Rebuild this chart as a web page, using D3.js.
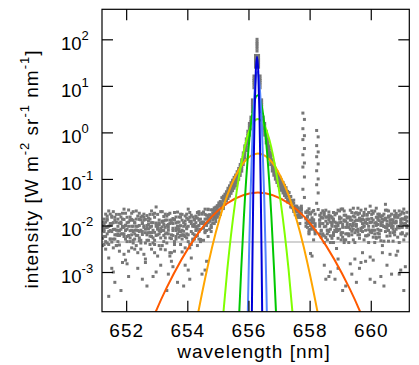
<!DOCTYPE html>
<html>
<head>
<meta charset="utf-8">
<script src="https://cdn.jsdelivr.net/npm/d3@7"></script>
<style>
body { margin: 0; background: #fff; }
text { font-family: "Liberation Sans", Arial, sans-serif; fill: #000; }
</style>
</head>
<body>
<script>
// spectrometer pixels [nm]
var wavelength = [
  651.23, 651.28, 651.33, 651.38, 651.43, 651.48, 651.53, 651.58, 651.63, 651.68,
  651.73, 651.78, 651.83, 651.88, 651.93, 651.98, 652.03, 652.08, 652.13, 652.18,
  652.23, 652.28, 652.33, 652.38, 652.43, 652.48, 652.53, 652.58, 652.63, 652.68,
  652.73, 652.78, 652.83, 652.88, 652.93, 652.98, 653.03, 653.08, 653.13, 653.18,
  653.23, 653.28, 653.33, 653.38, 653.43, 653.48, 653.53, 653.58, 653.63, 653.68,
  653.73, 653.78, 653.83, 653.88, 653.93, 653.98, 654.03, 654.08, 654.13, 654.18,
  654.23, 654.28, 654.33, 654.38, 654.43, 654.48, 654.53, 654.58, 654.63, 654.68,
  654.73, 654.78, 654.83, 654.88, 654.93, 654.98, 655.03, 655.08, 655.13, 655.18,
  655.23, 655.28, 655.33, 655.38, 655.43, 655.48, 655.53, 655.58, 655.63, 655.68,
  655.73, 655.78, 655.83, 655.88, 655.93, 655.98, 656.03, 656.08, 656.13, 656.18,
  656.23, 656.28, 656.33, 656.38, 656.43, 656.48, 656.53, 656.58, 656.63, 656.68,
  656.73, 656.78, 656.83, 656.88, 656.93, 656.98, 657.03, 657.08, 657.13, 657.18,
  657.23, 657.28, 657.33, 657.38, 657.43, 657.48, 657.53, 657.58, 657.63, 657.68,
  657.73, 657.78, 657.83, 657.88, 657.93, 657.98, 658.03, 658.08, 658.13, 658.18,
  658.23, 658.28, 658.33, 658.38, 658.43, 658.48, 658.53, 658.58, 658.63, 658.68,
  658.73, 658.78, 658.83, 658.88, 658.93, 658.98, 659.03, 659.08, 659.13, 659.18,
  659.23, 659.28, 659.33, 659.38, 659.43, 659.48, 659.53, 659.58, 659.63, 659.68,
  659.73, 659.78, 659.83, 659.88, 659.93, 659.98, 660.03, 660.08, 660.13, 660.18,
  660.23, 660.28, 660.33, 660.38, 660.43, 660.48, 660.53, 660.58, 660.63, 660.68,
  660.73, 660.78, 660.83, 660.88, 660.93, 660.98, 661.03, 661.08, 661.13, 661.18
];

// measured spectra, one array per frame [mW m^-2 sr^-1 nm^-1]
var frame1 = [
  5.3, 10.8, 3.1, 13.9, 7.4, 17.6, 4.4, 8.2, 0.6, 11.7,
  6.6, 3.8, 15.2, 9.1, 2.4, 10.1, 5.8, 21.5, 7.7, 3.3,
  12.9, 5.1, 8.0, 1.2, 4.7, 13.2, 6.4, 9.8, 1.9, 16.3,
  8.4, 5.9, 11.5, 4.2, 7.1, 25, 2.2, 10.4, 5.4, 9.3,
  15.6, 3.0, 6.9, 0.9, 11.0, 5.2, 14.1, 3.9, 8.8, 19.4,
  5.6, 9.9, 2.7, 7.5, 16.0, 8.5, 4.5, 12.2, 2.0, 6.7,
  10.6, 15.0, 6.1, 13.0, 5.0, 18.3, 9.0, 1.1, 13.7, 21.9,
  14.2, 9.3, 21.6, 15.4, 24.7, 17.8, 30.5, 25.9, 39.6, 37.2,
  47, 53, 63, 71, 83, 94, 108, 121, 143, 168,
  205, 258, 362, 512, 725, 1060, 1560, 2130, 5000, 16300,
  45000, 100000, 45000, 16300, 5000, 2130, 1560, 1060, 725, 512,
  362, 258, 209, 170, 143, 123, 109, 95, 84, 73,
  65, 54, 51, 42, 33, 35, 26, 26, 17, 20,
  23.4, 2600, 1900, 18.9, 12.6, 22.8, 8.3, 14.6, 11.4, 10.9,
  1100, 800, 13.1, 7.6, 20.7, 9.4, 5.5, 15.3, 0.8, 11.8,
  10.7, 6.1, 16.9, 8.3, 1.9, 14.5, 7.0, 22.6, 4.9, 12.4,
  9.2, 15.1, 1.5, 7.5, 11.1, 4.3, 18.8, 12.9, 6.3, 13.4,
  2.6, 9.8, 7.9, 17.2, 8.1, 0.7, 14.2, 5.6, 20.4, 11.5,
  6.8, 12.7, 4.7, 16.2, 9.5, 28.5, 5.9, 10.0, 2.4, 13.3,
  11.6, 7.4, 18.1, 2.8, 8.9, 1.1, 13.9, 10.5, 6.0, 19.2
];
var frame2 = [
  9.1, 3.9, 11.8, 6.6, 2.0, 11.0, 15.9, 5.1, 8.3, 3.7,
  13.7, 7.8, 0.4, 9.6, 5.8, 18.3, 4.5, 9.6, 13.0, 6.3,
  4.2, 7.9, 20.5, 6.1, 10.0, 3.1, 7.4, 15.0, 1.6, 8.7,
  4.8, 17.3, 7.0, 11.5, 2.6, 11.3, 8.3, 3.7, 19.8, 7.8,
  10.5, 5.4, 13.1, 9.1, 2.2, 6.3, 1.3, 13.5, 5.1, 9.6,
  15.2, 3.9, 7.9, 6.1, 12.4, 6.6, 22.4, 3.3, 11.0, 4.8,
  9.6, 5.8, 14.4, 10.0, 4.5, 11.8, 19.5, 7.4, 16.6, 11.5,
  12.7, 7.4, 18.6, 14.3, 16.8, 23.5, 18.2, 26.6, 23.3, 34.5,
  36, 41, 47, 54, 61, 70, 79, 90, 104, 124,
  150, 186, 261, 369, 522, 765, 1125, 1540, 3600, 11700,
  32400, 72000, 32400, 11700, 3600, 1540, 1125, 765, 522, 369,
  261, 188, 152, 125, 105, 91, 80, 71, 62, 55,
  48, 44, 34, 33, 32, 22, 21, 16, 20, 15,
  22.5, 700, 450, 11.3, 20.5, 6.6, 13.1, 9.1, 21.0, 7.8,
  300, 210, 11.0, 15.2, 6.3, 1.4, 12.4, 7.9, 19.5, 4.3,
  14.4, 7.0, 9.6, 3.2, 21.3, 8.3, 11.8, 5.6, 16.6, 0.5,
  10.0, 6.0, 15.0, 9.6, 23.5, 1.9, 13.0, 7.4, 18.3, 8.7,
  15.9, 4.9, 11.5, 13.7, 6.3, 26, 7.9, 1.8, 11.3, 5.3,
  10.5, 17.5, 7.8, 3.7, 13.1, 9.1, 12.4, 20.5, 6.0, 9.6,
  4.6, 15.0, 8.3, 15.2, 0.9, 11.0, 6.6, 22.5, 13.5, 9.1
];
var frame3 = [
  10.0, 7.4, 17.5, 4.2, 9.6, 5.1, 15.0, 1.0, 6.3, 17.3,
  6.1, 11.3, 8.3, 1.6, 22.4, 7.8, 11.5, 2.8, 13.1, 7.9,
  19.8, 6.6, 3.7, 9.6, 5.4, 15.2, 0.7, 9.1, 13.5, 4.8,
  7.0, 13.7, 3.1, 7.9, 18.3, 6.1, 10.0, 7.8, 1.4, 11.8,
  4.5, 9.1, 15.9, 6.6, 13.0, 2.6, 11.0, 19.0, 5.8, 8.3,
  7.4, 15.0, 5.1, 0.5, 10.5, 17.5, 6.3, 3.9, 12.4, 9.6,
  13.1, 7.8, 9.6, 19.8, 4.8, 11.3, 8.7, 17.3, 1.7, 14.4,
  16.7, 10.2, 16.2, 23.8, 14.1, 25.3, 19.8, 32.6, 26.3, 36.8,
  39, 45, 52, 59, 67, 77, 87, 99, 115, 137,
  167, 207, 290, 410, 580, 850, 1250, 1700, 4000, 13000,
  36000, 80000, 36000, 13000, 4000, 1700, 1250, 850, 580, 410,
  290, 208, 168, 138, 116, 100, 88, 78, 68, 60,
  55, 44, 41, 34, 34, 23, 24, 20, 22, 15,
  26, 180, 110, 13.7, 11.0, 18.3, 2.5, 11.8, 8.3, 17.5,
  75, 50, 9.6, 15.0, 6.6, 19.0, 9.6, 4.9, 13.0, 15.9,
  5.3, 12.4, 7.9, 18.3, 1.2, 11.5, 14.4, 7.0, 4.3, 16.6,
  11.3, 9.1, 21.3, 6.3, 10.0, 15.2, 0.6, 8.3, 13.1, 7.8,
  11.0, 19.0, 6.0, 13.5, 9.6, 2.1, 17.3, 9.6, 6.6, 23.5,
  15.0, 7.9, 0.8, 11.8, 17.5, 7.4, 10.5, 4.6, 15.9, 9.1,
  8.3, 16.6, 11.5, 5.6, 20.5, 12.4, 7.0, 13.7, 1.3, 10.0
];
var frame4 = [
  3.7, 8.3, 5.8, 13.0, 0.3, 7.8, 11.0, 3.3, 15.0, 6.3,
  9.6, 2.8, 6.6, 13.7, 9.1, 5.1, 1.5, 11.8, 4.5, 18.3,
  7.4, 11.5, 6.1, 2.6, 13.5, 7.9, 15.9, 2.4, 7.0, 10.0,
  14.4, 3.9, 9.6, 0.8, 4.8, 11.0, 17.3, 6.6, 3.1, 12.4,
  7.8, 17.5, 4.2, 10.5, 5.4, 13.1, 8.7, 2.8, 11.3, 0.6,
  9.6, 6.1, 13.0, 6.3, 3.3, 9.1, 1.1, 15.0, 7.4, 15.2,
  5.1, 11.5, 3.7, 17.3, 8.3, 0.9, 11.8, 7.0, 10.0, 5.8,
  8.3, 14.8, 11.3, 18.7, 12.2, 16.1, 20.6, 17.3, 26.8, 23.1,
  29, 34, 38, 43, 49, 56, 63, 71, 83, 98,
  119, 147, 203, 287, 406, 595, 875, 1190, 2800, 9100,
  25200, 56000, 25200, 9100, 2800, 1190, 875, 595, 406, 287,
  203, 148, 120, 99, 84, 72, 64, 57, 50, 44,
  40, 32, 32, 25, 24, 20, 22, 15, 16, 11,
  21.3, 1200, 850, 9.6, 15.9, 7.8, 11.3, 19.5, 4.9, 9.6,
  520, 380, 13.0, 5.6, 11.0, 16.6, 0.7, 6.6, 14.4, 8.3,
  15.2, 4.3, 11.8, 7.4, 10.0, 20.5, 6.3, 0.4, 13.1, 9.1,
  6.6, 15.0, 10.5, 19.0, 4.9, 12.4, 7.9, 17.3, 5.3, 1.6,
  13.5, 9.6, 22.4, 6.0, 13.7, 11.5, 7.0, 18.3, 4.3, 10.0,
  8.3, 15.9, 11.3, 2.6, 0.5, 14.4, 21.3, 7.8, 13.0, 17.5,
  13.1, 6.3, 12.4, 9.1, 16.6, 6.6, 19.5, 4.9, 11.0, 15.0
];
var frame5 = [
  11.8, 5.8, 9.1, 15.9, 3.9, 10.0, 7.4, 19.8, 5.1, 7.9,
  4.5, 17.3, 11.0, 6.6, 13.5, 1.8, 8.3, 6.1, 15.2, 9.6,
  9.6, 3.1, 13.7, 7.8, 18.3, 4.8, 11.5, 13.0, 4.2, 6.3,
  10.5, 7.0, 20.5, 5.4, 15.0, 1.0, 8.7, 11.3, 7.4, 3.7,
  12.4, 6.6, 10.0, 17.3, 2.6, 1.7, 6.1, 13.1, 7.8, 11.8,
  8.3, 17.5, 6.3, 11.5, 5.8, 14.4, 9.6, 0.7, 16.6, 5.1,
  13.5, 9.1, 19.0, 7.4, 13.7, 11.0, 4.8, 22.4, 11.3, 15.9,
  12.3, 21.7, 13.2, 20.6, 16.3, 26.7, 21.2, 31.5, 29.4, 42.6,
  42, 49, 57, 64, 73, 84, 95, 108, 126, 150,
  183, 227, 319, 451, 638, 935, 1375, 1870, 4400, 14300,
  39600, 88000, 39600, 14300, 4400, 1870, 1375, 935, 638, 451,
  319, 228, 184, 151, 127, 109, 96, 85, 74, 65,
  56, 51, 42, 41, 29, 30, 25, 20, 24, 17,
  18.3, 60, 40, 19.5, 15.0, 7.0, 17.5, 9.5, 13.1, 6.6,
  30, 22, 16.6, 7.9, 14.4, 6.0, 21.3, 11.0, 7.4, 1.0,
  11.3, 19.0, 7.8, 9.6, 5.3, 13.7, 22.5, 9.1, 12.4, 4.9,
  15.2, 6.6, 13.0, 0.9, 8.3, 18.3, 10.5, 6.3, 14.4, 21.3,
  7.4, 13.1, 11.5, 16.6, 4.3, 11.8, 20.5, 7.9, 0.6, 15.0,
  17.5, 5.6, 10.0, 13.7, 9.6, 13.5, 1.4, 15.9, 7.0, 11.0,
  9.6, 20.5, 2.3, 15.0, 9.1, 17.5, 11.3, 0.4, 15.2, 6.6
];
var frame6 = [
  7.8, 13.7, 4.5, 9.1, 20.5, 5.1, 1.2, 11.5, 13.0, 3.7,
  7.9, 6.1, 11.8, 18.3, 6.6, 10.0, 15.0, 0.8, 5.4, 13.5,
  4.8, 11.3, 9.6, 15.9, 7.4, 4.2, 11.0, 17.5, 8.3, 0.5,
  12.4, 9.1, 5.8, 17.3, 3.9, 9.6, 6.3, 13.1, 8.7, 19.8,
  6.1, 13.0, 0.4, 7.9, 18.3, 11.5, 7.8, 4.5, 15.2, 6.6,
  11.8, 7.4, 17.3, 9.6, 1.4, 5.4, 13.5, 19.0, 3.9, 10.0,
  6.3, 15.9, 8.3, 5.1, 11.3, 17.5, 11.0, 13.7, 7.8, 22.4,
  17, 9, 16, 11, 21, 15, 27, 18, 29, 25,
  33, 37, 43, 49, 55, 63, 71, 81, 93, 111,
  135, 167, 232, 328, 464, 680, 1000, 1360, 3200, 10400,
  28800, 64000, 28800, 10400, 3200, 1360, 1000, 680, 464, 328,
  232, 168, 136, 112, 94, 82, 72, 64, 56, 50,
  46, 36, 34, 34, 25, 23, 17, 20, 15, 18,
  15.2, 330, 220, 14.4, 9.1, 19.0, 10.0, 2.2, 13.1, 7.4,
  150, 100, 6.6, 18.3, 11.0, 4.3, 15.0, 7.9, 16.6, 6.0,
  9.6, 13.7, 0.7, 11.3, 7.8, 15.2, 4.9, 10.5, 20.5, 6.6,
  14.4, 4.3, 8.3, 13.0, 15.9, 7.0, 9.6, 23.5, 1.2, 12.4,
  9.1, 16.6, 1.7, 11.0, 19.0, 7.4, 11.8, 13.1, 7.9, 5.6,
  13.5, 6.6, 15.2, 10.0, 4.6, 21.3, 8.7, 15.0, 11.5, 0.9,
  7.0, 11.3, 16.6, 9.6, 4.3, 13.7, 9.1, 18.3, 10.5, 12.4
];
var frames = [frame1, frame2, frame3, frame4, frame5, frame6];

// fitted line components [nm] / [W m^-2 sr^-1 nm^-1]
var fitRedWl = [652.71, 653.31, 654.31, 655.31, 656.31, 657.31, 658.31, 659.31, 659.91];
var fitRedVal = [5.4e-5, 4.4e-4, 6.2e-3, 3.0e-2, 5.1e-2, 3.0e-2, 6.2e-3, 4.4e-4, 5.4e-5];
var fitOrangeWl = [654.11, 654.31, 654.81, 655.31, 655.81, 656.31, 656.81, 657.31, 657.81, 658.31, 658.51];
var fitOrangeVal = [1.6e-5, 9.3e-5, 3.4e-3, 4.5e-2, 0.21, 0.353, 0.21, 4.5e-2, 3.4e-3, 9.3e-5, 1.6e-5];
var fitLimeWl = [655.06, 655.31, 655.56, 655.81, 656.06, 656.31, 656.56, 656.81, 657.06, 657.31, 657.56];
var fitLimeVal = [1.8e-5, 1.17e-3, 3.0e-2, 0.305, 1.23, 1.95, 1.23, 0.305, 3.0e-2, 1.17e-3, 1.8e-5];
var fitGreenWl = [655.60, 655.70, 655.85, 656.00, 656.15, 656.30, 656.45, 656.60, 656.75, 656.90, 657.00];
var fitGreenVal = [2.9e-6, 1.39e-4, 1.51e-2, 0.43, 3.23, 6.3, 3.23, 0.43, 1.51e-2, 1.39e-4, 2.9e-6];
var fitSkyWl = [655.94, 655.99, 656.065, 656.14, 656.215, 656.29, 656.365, 656.44, 656.515, 656.59, 656.64];
var fitSkyVal = [5.9e-6, 3.2e-4, 0.040, 1.26, 10, 20, 10, 1.26, 0.040, 3.2e-4, 5.9e-6];
var fitBlueWl = [656.09, 656.12, 656.16, 656.20, 656.24, 656.28, 656.32, 656.36, 656.40, 656.44, 656.47];
var fitBlueVal = [4.6e-6, 4.9e-4, 0.0708, 2.47, 20.7, 42, 20.7, 2.47, 0.0708, 4.9e-4, 4.6e-6];

var baseLevel = 4.4e-3;
var xTicks = [652, 654, 656, 658, 660];
var yExponents = [-3, -2, -1, 0, 1, 2];

var svg = d3.select("body")
    .append("svg")
    .attr("width", 419)
    .attr("height", 365)
    .style("display", "block");
var margin = {top: 9.3, right: 9.7, bottom: 53.3, left: 102};
var width = 419 - margin.left - margin.right;
var height = 365 - margin.top - margin.bottom;
var g = svg.append("g").attr("transform", "translate(" + margin.left + "," + margin.top + ")");

var x = d3.scaleLinear()
    .domain([651.21, 661.26])
    .range([0, width]);

var y = d3.scaleLog()
    .domain([1.403e-4, 441.6])
    .range([height, 0]);

g.append("clipPath").attr("id", "clip")
    .append("rect").attr("width", width).attr("height", height);
var plot = g.append("g").attr("clip-path", "url(#clip)");

plot.append("line")
    .attr("x1", 0).attr("x2", width)
    .attr("y1", y(baseLevel)).attr("y2", y(baseLevel))
    .attr("stroke", "#d2d2d2")
    .attr("stroke-width", 2);

var points = [];
frames.forEach(function(f) {
    f.forEach(function(v, i) {
        points.push({w: wavelength[i], v: v / 1000});
    });
});

plot.selectAll("rect.pt")
    .data(points)
    .enter()
    .append("rect")
    .attr("class", "pt")
    .attr("x", function(d) { return x(d.w) - 1.5; })
    .attr("y", function(d) { return y(d.v) - 1.5; })
    .attr("width", 3)
    .attr("height", 3)
    .attr("fill", "#777777");

var fits = [
    {wl: fitRedWl, val: fitRedVal, color: "#ff5a00"},
    {wl: fitOrangeWl, val: fitOrangeVal, color: "#ffa500"},
    {wl: fitLimeWl, val: fitLimeVal, color: "#80ff00"},
    {wl: fitGreenWl, val: fitGreenVal, color: "#00c800"},
    {wl: fitSkyWl, val: fitSkyVal, color: "#5585ff"},
    {wl: fitBlueWl, val: fitBlueVal, color: "#0000d8"}
];

var line = d3.line()
    .x(function(d) { return x(d[0]); })
    .y(function(d) { return y(d[1]); })
    .curve(d3.curveNatural);

fits.forEach(function(f) {
    plot.append("path")
        .datum(f.wl.map(function(w, i) { return [w, f.val[i]]; }))
        .attr("d", line)
        .attr("fill", "none")
        .attr("stroke", f.color)
        .attr("stroke-width", 2);
});

var yTickValues = yExponents.map(function(e) { return Math.pow(10, e); });

function inward(axis) {
    return axis.tickSizeInner(-11).tickSizeOuter(0);
}

var xAxis = inward(d3.axisBottom(x)).tickValues(xTicks).tickFormat(d3.format("d"));
var gx = g.append("g")
    .attr("transform", "translate(0," + height + ")")
    .call(xAxis);
gx.select(".domain").remove();
gx.selectAll("text")
    .attr("y", 25.6)
    .attr("dy", null)
    .style("font-size", "19px")
    .style("letter-spacing", "1px");

var gxTop = g.append("g").call(inward(d3.axisTop(x)).tickValues(xTicks).tickFormat(""));
gxTop.select(".domain").remove();

var gy = g.append("g").call(inward(d3.axisLeft(y)).tickValues(yTickValues).tickFormat(""));
gy.select(".domain").remove();

var gyRight = g.append("g")
    .attr("transform", "translate(" + width + ",0)")
    .call(inward(d3.axisRight(y)).tickValues(yTickValues).tickFormat(""));
gyRight.select(".domain").remove();

g.selectAll(".tick line").attr("stroke", "#000").attr("stroke-width", 1.2);

var yLabels = g.selectAll("text.ylab")
    .data(yExponents)
    .enter()
    .append("text")
    .attr("class", "ylab")
    .attr("x", -41)
    .attr("y", function(d) { return y(Math.pow(10, d)) + 11; })
    .style("font-size", "18.5px");
yLabels.append("tspan").text("10");
yLabels.append("tspan")
    .attr("dy", -10)
    .style("font-size", "13px")
    .text(function(d) { return d; });

g.append("rect")
    .attr("width", width)
    .attr("height", height)
    .attr("fill", "none")
    .attr("stroke", "#000")
    .attr("stroke-width", 1.2);

svg.append("text")
    .attr("x", 254)
    .attr("y", 358)
    .attr("text-anchor", "middle")
    .style("font-size", "19px")
    .style("letter-spacing", "1px")
    .text("wavelength [nm]");

var yTitle = svg.append("text")
    .attr("transform", "translate(38,169) rotate(-90)")
    .attr("text-anchor", "middle")
    .style("font-size", "19px")
    .style("letter-spacing", "1px");
yTitle.append("tspan").text("intensity [W m");
yTitle.append("tspan").attr("dy", -9).style("font-size", "13px").text("-2");
yTitle.append("tspan").attr("dy", 9).text(" sr");
yTitle.append("tspan").attr("dy", -9).style("font-size", "13px").text("-1");
yTitle.append("tspan").attr("dy", 9).text(" nm");
yTitle.append("tspan").attr("dy", -9).style("font-size", "13px").text("-1");
yTitle.append("tspan").attr("dy", 9).text("]");
</script>
</body>
</html>
